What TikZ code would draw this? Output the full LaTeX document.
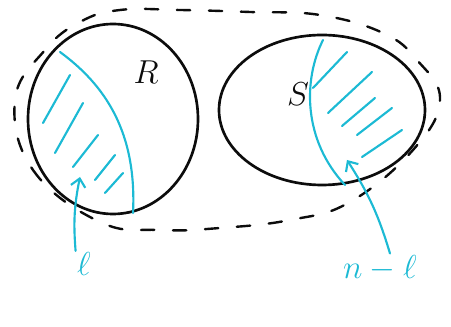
\documentclass[tikz,border=0pt]{standalone}
\usetikzlibrary{arrows.meta,calc}
\definecolor{ink}{RGB}{12,12,12}
\definecolor{marker}{RGB}{28,186,212}
\tikzset{
  every picture/.style={line cap=round, line join=round},
  setline/.style={draw=ink, line width=2pt},
  universe/.style={draw=ink, line width=1.8pt, dash pattern=on 10pt off 14pt},
  cut/.style={draw=marker, line width=1.6pt},
  hatch/.style={draw=marker, line width=1.6pt},
  point/.style={-{Straight Barb[length=6pt,width=11pt]}, draw=marker, line width=1.6pt},
  setname/.style={text=ink, font=\fontsize{36}{36}\selectfont, inner sep=0pt},
  count/.style={text=marker, font=\fontsize{34}{34}\selectfont, inner sep=1pt},
}
\begin{document}
\begin{tikzpicture}[x=0.75pt, y=-0.75pt]
  \useasboundingbox (0,0) rectangle (451,327);
  % the two sets and the dashed universe round them
  \draw[universe] plot[smooth cycle, tension=0.7] coordinates {(15,100) (33,170) (100,222) (160,230)
    (220,228) (290,220) (350,202) (413,150) (440,100) (417,60) (383,33) (320,15) (250,12)
    (180,10) (120,10) (80,22) (45,50)};
  \draw[setline] (113,119) ellipse [x radius=85, y radius=95];
  \draw[setline] (322,110) ellipse [x radius=103, y radius=75];
  \node[setname] (R) at (146,72) {$R$};
  \node[setname] (S) at (298,94) {$S$};
  % the chosen part of each set
  \draw[cut] (60,52) .. controls (105,85) and (137,132) .. (133,213);
  \draw[cut] (323,40) .. controls (303,80) and (303,140) .. (345,185);
  \foreach \ax/\ay/\bx/\by in {43/123/70/75, 55/153/83/103, 73/167/98/135, 95/180/115/155, 105/193/123/173}
    \draw[hatch] (\ax,\ay) -- (\bx,\by);
  \foreach \ax/\ay/\bx/\by in {313/88/347/52, 328/113/372/72, 342/126/375/98, 357/135/392/108, 362/157/402/130}
    \draw[hatch] (\ax,\ay) -- (\bx,\by);
  % labels and arrows
  \coordinate (inL) at (80,177);
  \coordinate (inS) at (347,160);
  \node[count] (ell) at (84,264) {$\ell$};
  \node[count] (rest) at (380,268) {$n-\ell$};
  \draw[point] (ell.north west) to[bend left=8] (inL);
  \draw[point] ($(rest.north)+(10,0)$) to[bend right=8] (inS);
\end{tikzpicture}
\end{document}
